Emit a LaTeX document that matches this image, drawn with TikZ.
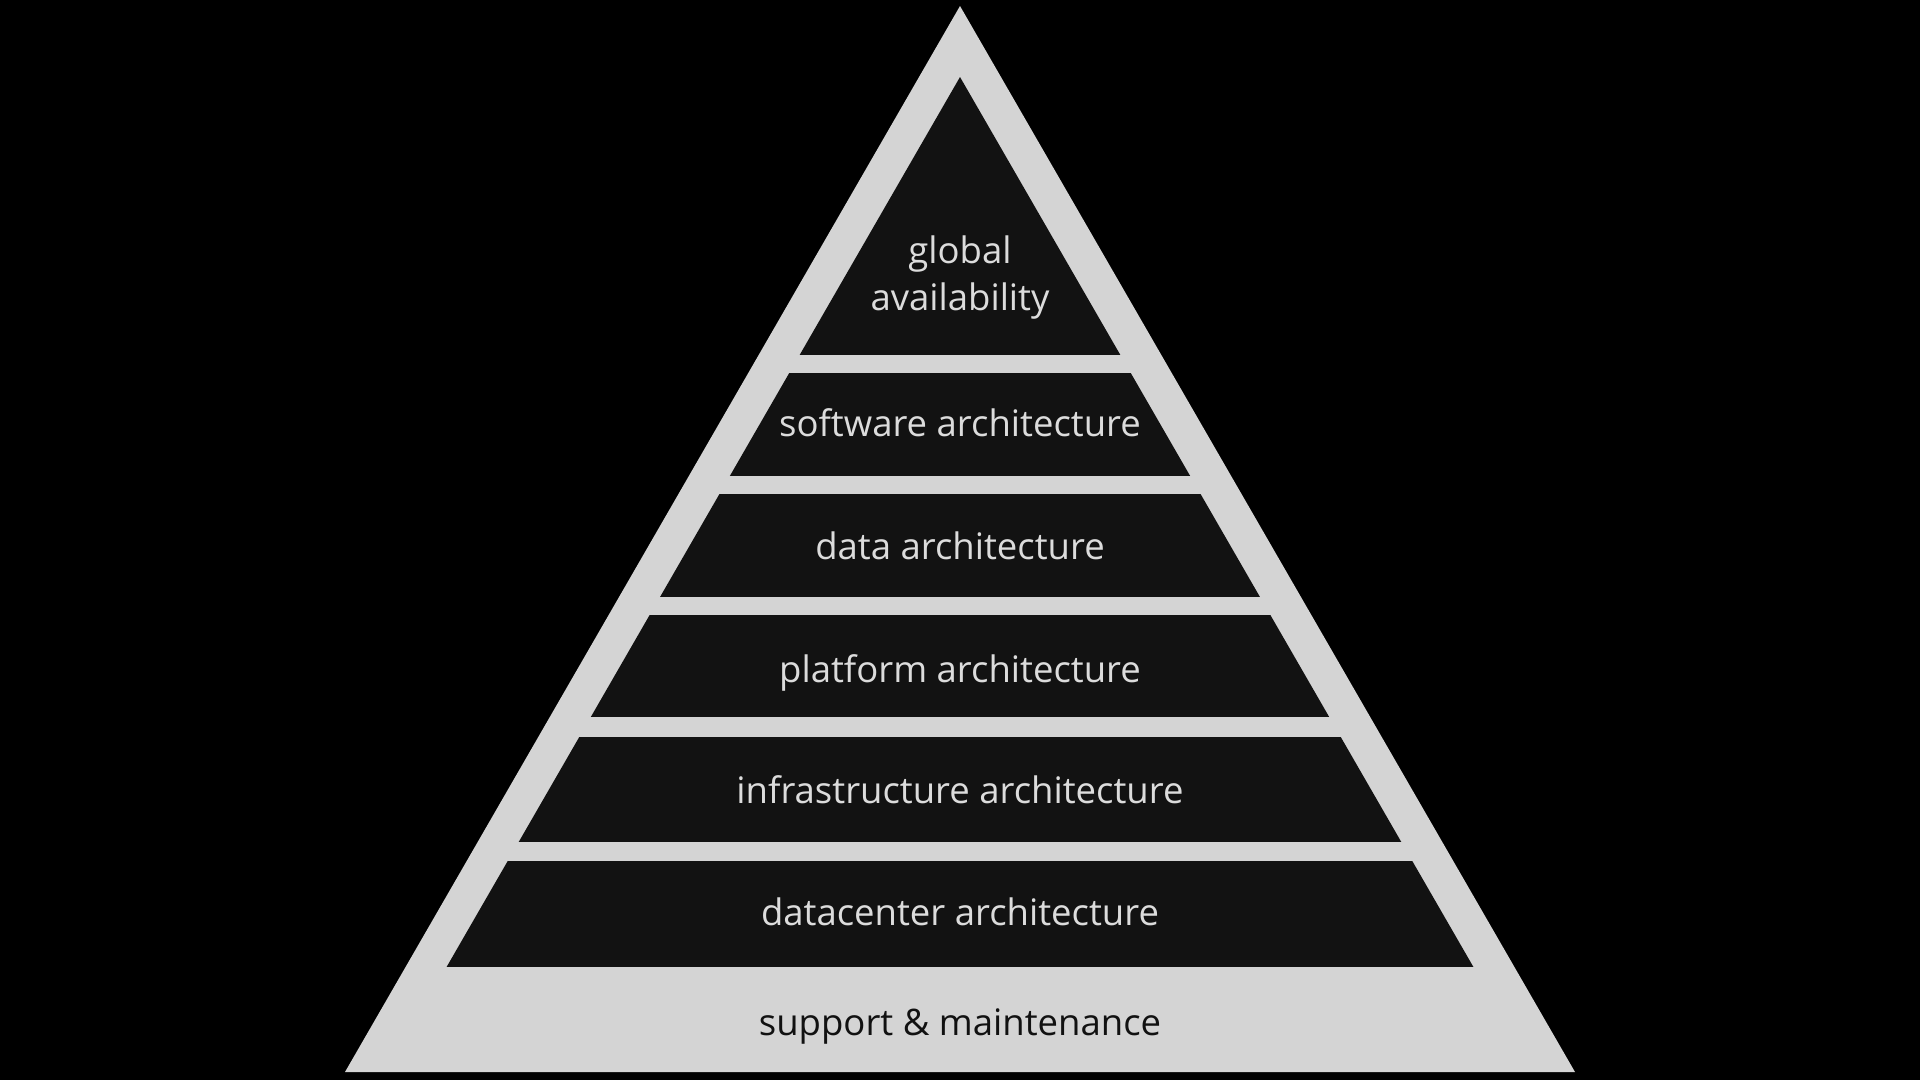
\documentclass[tikz,border=0pt]{standalone}
\usepackage{fontspec}
\setmainfont{Open Sans}
\definecolor{bgc}{HTML}{000000}
\definecolor{shell}{HTML}{D4D4D4}
\definecolor{layerc}{HTML}{121212}
\definecolor{lighttext}{HTML}{DCDCDC}
\definecolor{darktext}{HTML}{111111}
\begin{document}
\begin{tikzpicture}[x=1pt,y=-1pt,
  lbl/.style={font=\fontsize{36.5}{46}\selectfont, text=lighttext, anchor=base, inner sep=0pt},
  basetxt/.style={font=\fontsize{36.5}{46}\selectfont, text=darktext, anchor=base, inner sep=0pt},
  band/.style={fill=layerc}]
\fill[bgc] (0,0) rectangle (1920,1080);
\useasboundingbox (0,0) rectangle (1920,1080);
% outer shell
\fill[shell] (960,6) -- (1575,1072) -- (345,1072) -- cycle;
% layers, clipped to the inner triangle
\begin{scope}
  \clip (960,77) -- (1534,1072) -- (386,1072) -- cycle;
  \fill[band] (0,0)   rectangle (1920,355);
  \fill[band] (0,373) rectangle (1920,476);
  \fill[band] (0,494) rectangle (1920,597);
  \fill[band] (0,615) rectangle (1920,717);
  \fill[band] (0,737) rectangle (1920,842);
  \fill[band] (0,861) rectangle (1920,967);
\end{scope}
% labels
\node[lbl] (global) at (960,263) {global};
\node[lbl] (avail) at (960,310) {availability};
\node[lbl] (software) at (960,436.5) {software architecture};
\node[lbl] (data) at (960,559) {data architecture};
\node[lbl] (platform) at (960,682) {platform architecture};
\node[lbl] (infra) at (960,803) {infrastructure architecture};
\node[lbl] (dc) at (960,925.5) {datacenter architecture};
\node[basetxt] (support) at (960,1035) {support \& maintenance};
\end{tikzpicture}
\end{document}
